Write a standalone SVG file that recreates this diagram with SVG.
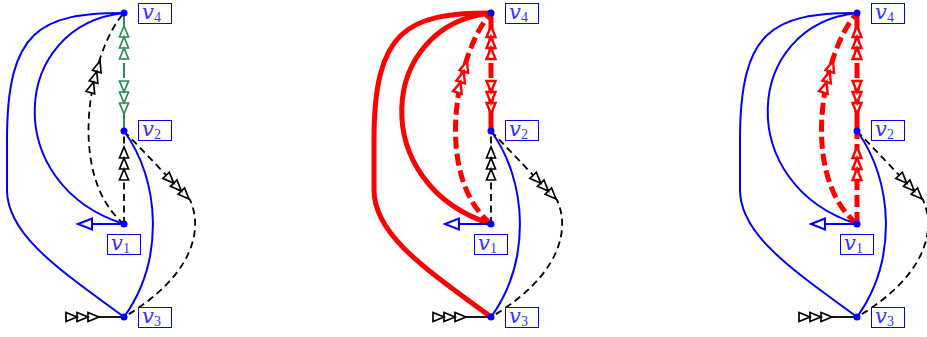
<svg xmlns="http://www.w3.org/2000/svg" width="927" height="337" viewBox="0 0 927 337">
<style>
.b{stroke:#0000ff;stroke-width:2;fill:none}
.r{stroke:#ff0000;stroke-width:5;fill:none}
.kd{stroke:#000;stroke-width:1.8;fill:none;stroke-dasharray:7 4.5}
.rd{stroke:#ff0000;stroke-width:5;fill:none;stroke-dasharray:12 5}
.g{stroke:#2e8b57;stroke-width:2;fill:none}
.k{stroke:#000;stroke-width:1.8;fill:none}
.tk{stroke:#000;stroke-width:1.7;fill:#fff;stroke-linejoin:miter}
.tg{stroke:#2e8b57;stroke-width:1.7;fill:#fff}
.tr{stroke:#ff0000;stroke-width:2.4;fill:#fff}
.ta{stroke:#0000ff;stroke-width:2;fill:#fff}
.dot{fill:#0000ff}
.lbl rect{fill:#fff;stroke:#0000ff;stroke-width:1}
.lbl text{font-family:"DejaVu Serif",serif;font-style:italic;font-size:21px;fill:#3333ff}
.sub{font-style:normal;font-size:14px;font-family:"Liberation Serif",serif}
</style>
<defs>
<g id="t3"><polygon points="0,0 -11,-4.5 -11,4.5"/><polygon points="-11,0 -22,-4.5 -22,4.5"/><polygon points="-22,0 -33,-4.5 -33,4.5"/></g>
</defs>

<!-- Panel 1 -->
<g id="panel1">
<g id="p1-connectors">
<path class="b" d="M124,13 C40,13 7,30 7,140 L7,190 C7,235 60,270 124,317"/>
<path class="b" d="M124,13 C10,25 0,185 124,224"/>
<path class="b" d="M124,131 C160,180 165,260 124,317"/>
<path class="kd" d="M124,131 L190,200 C203,228 195,275 124,317"/>
<use href="#t3" class="tk" transform="translate(189,199) rotate(46)"/>
<path class="kd" d="M124,224 C65,175 90,50 124,13"/>
<use href="#t3" class="tk" transform="translate(100,61) rotate(-73)"/>
<path class="kd" d="M124,224 V131"/>
<use href="#t3" class="tk" transform="translate(124,147) rotate(-90)"/>
<path class="g" d="M124,13 V60 M124,63 V78 M124,81 V131"/>
<use href="#t3" class="tg" transform="translate(124,26) rotate(-90)"/>
<use href="#t3" class="tg" transform="translate(124,114) rotate(90)"/>
<path class="b" d="M124,224 H92"/>
<polygon class="ta" points="78,224 92,218.5 92,229.5"/>
<path class="k" d="M124,317 H99"/>
<use href="#t3" class="tk" transform="translate(99,317)"/>
</g>
<g id="p1-v4" class="lbl"><circle class="dot" cx="124" cy="13" r="3.5"/><rect x="138.5" y="3.5" width="33" height="20"/><text x="142" y="19">v<tspan class="sub" dy="3">4</tspan></text></g>
<g id="p1-v2" class="lbl"><circle class="dot" cx="124" cy="131" r="3.5"/><rect x="138.5" y="120.5" width="33" height="20"/><text x="142" y="136">v<tspan class="sub" dy="3">2</tspan></text></g>
<g id="p1-v1" class="lbl"><circle class="dot" cx="124" cy="224" r="3.5"/><rect x="107.5" y="234.5" width="33" height="20"/><text x="111" y="250">v<tspan class="sub" dy="3">1</tspan></text></g>
<g id="p1-v3" class="lbl"><circle class="dot" cx="124" cy="317" r="3.5"/><rect x="138.5" y="307.5" width="33" height="20"/><text x="142" y="323">v<tspan class="sub" dy="3">3</tspan></text></g>
</g>

<!-- Panel 2 -->
<g id="panel2" transform="translate(367,0)">
<g id="p2-connectors">
<path class="r" d="M124,13 C40,13 7,30 7,140 L7,190 C7,235 60,270 124,317"/>
<path class="r" d="M124,13 C10,25 0,185 124,224"/>
<path class="b" d="M124,131 C160,180 165,260 124,317"/>
<path class="kd" d="M124,131 L190,200 C203,228 195,275 124,317"/>
<use href="#t3" class="tk" transform="translate(189,199) rotate(46)"/>
<path class="rd" d="M124,224 C65,175 90,50 124,13"/>
<use href="#t3" class="tr" transform="translate(100,61) rotate(-73)"/>
<path class="kd" d="M124,224 V131"/>
<use href="#t3" class="tk" transform="translate(124,147) rotate(-90)"/>
<path class="r" d="M124,13 V60 M124,63 V78 M124,81 V131"/>
<use href="#t3" class="tr" transform="translate(124,26) rotate(-90)"/>
<use href="#t3" class="tr" transform="translate(124,114) rotate(90)"/>
<path class="b" d="M124,224 H92"/>
<polygon class="ta" points="78,224 92,218.5 92,229.5"/>
<path class="k" d="M124,317 H99"/>
<use href="#t3" class="tk" transform="translate(99,317)"/>
</g>
<g id="p2-v4" class="lbl"><circle class="dot" cx="124" cy="13" r="3.5"/><rect x="138.5" y="3.5" width="33" height="20"/><text x="142" y="19">v<tspan class="sub" dy="3">4</tspan></text></g>
<g id="p2-v2" class="lbl"><circle class="dot" cx="124" cy="131" r="3.5"/><rect x="138.5" y="120.5" width="33" height="20"/><text x="142" y="136">v<tspan class="sub" dy="3">2</tspan></text></g>
<g id="p2-v1" class="lbl"><circle class="dot" cx="124" cy="224" r="3.5"/><rect x="107.5" y="234.5" width="33" height="20"/><text x="111" y="250">v<tspan class="sub" dy="3">1</tspan></text></g>
<g id="p2-v3" class="lbl"><circle class="dot" cx="124" cy="317" r="3.5"/><rect x="138.5" y="307.5" width="33" height="20"/><text x="142" y="323">v<tspan class="sub" dy="3">3</tspan></text></g>
</g>

<!-- Panel 3 -->
<g id="panel3" transform="translate(733,0)">
<g id="p3-connectors">
<path class="b" d="M124,13 C40,13 7,30 7,140 L7,190 C7,235 60,270 124,317"/>
<path class="b" d="M124,13 C10,25 0,185 124,224"/>
<path class="b" d="M124,131 C160,180 165,260 124,317"/>
<path class="kd" d="M124,131 L190,200 C203,228 195,275 124,317"/>
<use href="#t3" class="tk" transform="translate(189,199) rotate(46)"/>
<path class="rd" d="M124,224 C65,175 90,50 124,13"/>
<use href="#t3" class="tr" transform="translate(100,61) rotate(-73)"/>
<path class="rd" d="M124,224 V131"/>
<use href="#t3" class="tr" transform="translate(124,147) rotate(-90)"/>
<path class="r" d="M124,13 V60 M124,63 V78 M124,81 V131"/>
<use href="#t3" class="tr" transform="translate(124,26) rotate(-90)"/>
<use href="#t3" class="tr" transform="translate(124,114) rotate(90)"/>
<path class="b" d="M124,224 H92"/>
<polygon class="ta" points="78,224 92,218.5 92,229.5"/>
<path class="k" d="M124,317 H99"/>
<use href="#t3" class="tk" transform="translate(99,317)"/>
</g>
<g id="p3-v4" class="lbl"><circle class="dot" cx="124" cy="13" r="3.5"/><rect x="138.5" y="3.5" width="33" height="20"/><text x="142" y="19">v<tspan class="sub" dy="3">4</tspan></text></g>
<g id="p3-v2" class="lbl"><circle class="dot" cx="124" cy="131" r="3.5"/><rect x="138.5" y="120.5" width="33" height="20"/><text x="142" y="136">v<tspan class="sub" dy="3">2</tspan></text></g>
<g id="p3-v1" class="lbl"><circle class="dot" cx="124" cy="224" r="3.5"/><rect x="107.5" y="234.5" width="33" height="20"/><text x="111" y="250">v<tspan class="sub" dy="3">1</tspan></text></g>
<g id="p3-v3" class="lbl"><circle class="dot" cx="124" cy="317" r="3.5"/><rect x="138.5" y="307.5" width="33" height="20"/><text x="142" y="323">v<tspan class="sub" dy="3">3</tspan></text></g>
</g>
</svg>
